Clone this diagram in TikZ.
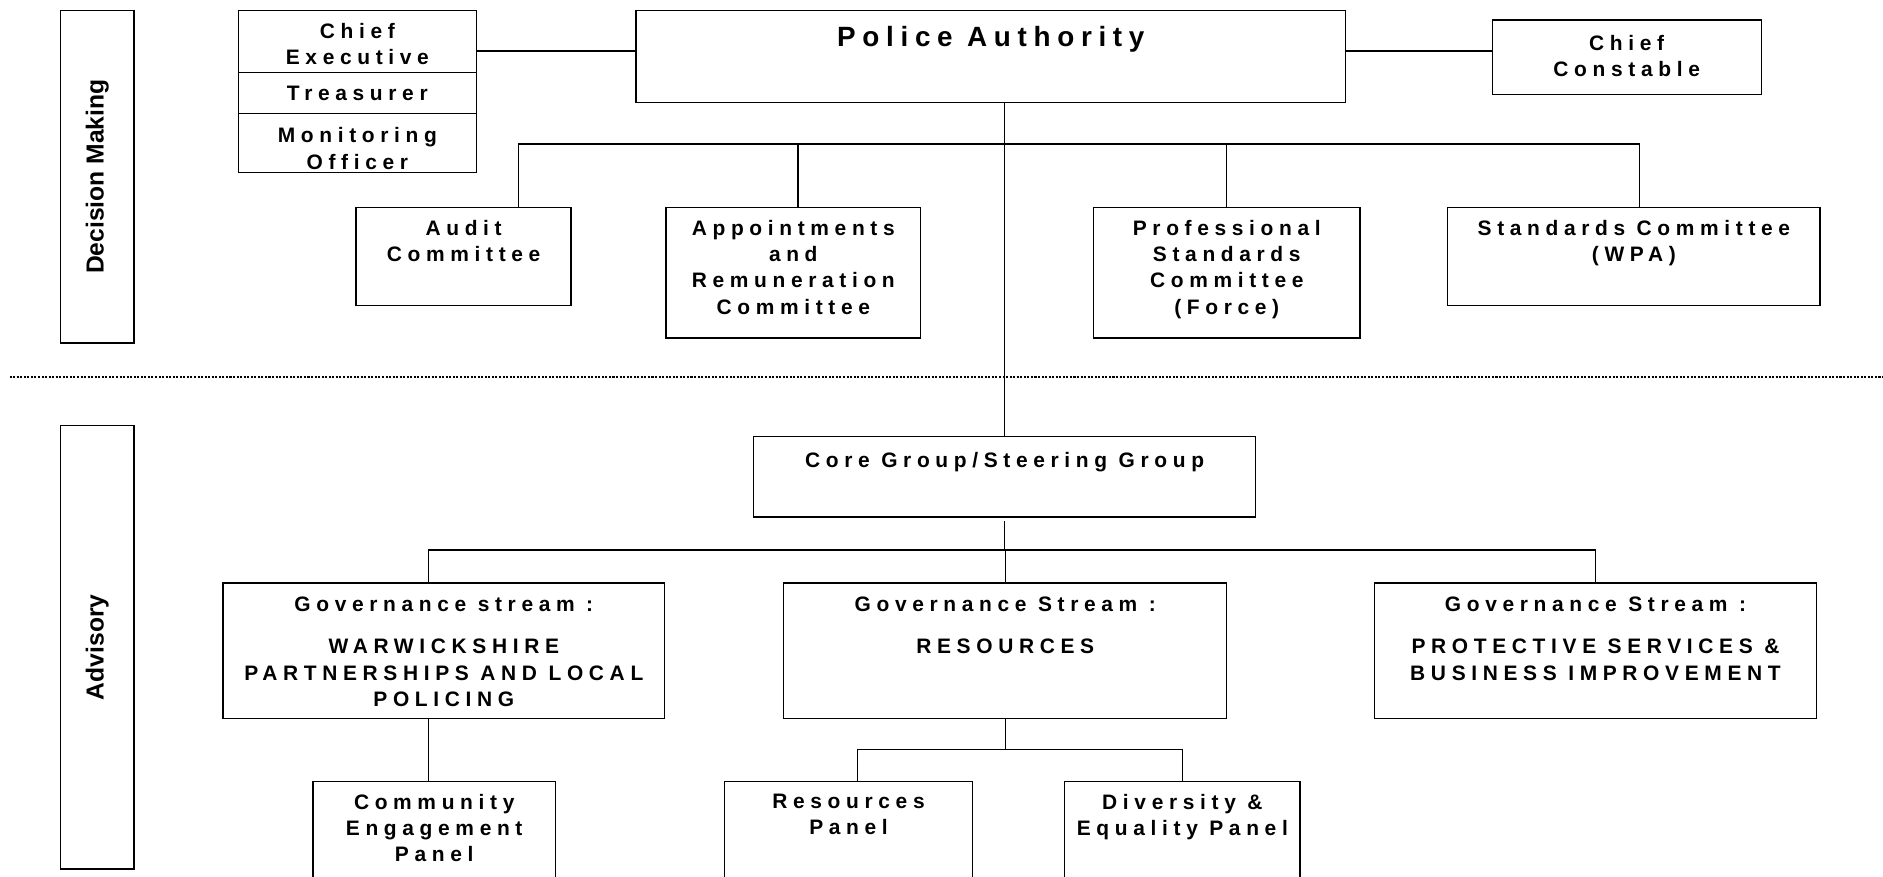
\documentclass[tikz,border=0pt]{standalone}
\usepackage{fontspec}
\setmainfont{Liberation Sans}
\newfontfamily\spaced[LetterSpace=27]{Liberation Sans}
\newfontfamily\spacedbig[LetterSpace=24]{Liberation Sans}
\newdimen\myunit
\myunit=0.025cm
\tikzset{
semithick,
box/.style={draw,line width=0.8pt,anchor=north west,inner sep=0pt},
sz/.style 2 args={minimum width=#1*\myunit,minimum height=#2*\myunit},
txt/.style={anchor=north,align=center,inner sep=0pt,yshift=-#1*\myunit,
  font=\spaced\bfseries\fontsize{12.4}{15.6}\selectfont},
txt/.default=11,
big/.style={font=\spacedbig\bfseries\fontsize{16.5}{20}\selectfont},
side/.style={anchor=center,rotate=90,inner sep=0pt,
  font=\bfseries\fontsize{14.6}{17}\selectfont},
link/.style={line width=0.8pt},
sep/.style={line width=1pt,dash pattern=on 1.2pt off 0.9pt}
}
\begin{document}
\begin{tikzpicture}[x=\myunit,y=-\myunit]
\useasboundingbox (0,0) rectangle (1568,730);
\clip (0,0) rectangle (1568,730);
% left bars
\node[box,sz={61}{277},label={[side]center:Decision Making}] (dm) at (50,8) {};
\node[box,sz={61}{369},label={[side]center:Advisory}] (adv) at (50,354) {};
% decision making
\node[box,sz={198}{52},label={[txt]north:{Chief\\Executive}}] (ce) at (198,8) {};
\node[box,sz={198}{34},label={[txt]north:{Treasurer}}] (tr) at (198,60) {};
\node[box,sz={198}{49},label={[txt=12]north:{Monitoring\\Officer}}] (mo) at (198,94) {};
\node[box,sz={591}{77},label={[txt=14,big]north:{Police Authority}}] (pa) at (529,8) {};
\node[box,sz={224}{62},label={[txt=13]north:{Chief\\Constable}}] (cc) at (1242,16) {};
\node[box,sz={179}{82},label={[txt]north:{Audit\\Committee}}] (audit) at (296,172) {};
\node[box,sz={212}{109},label={[txt]north:{Appointments\\and\\Remuneration\\Committee}}] (appt) at (554,172) {};
\node[box,sz={222}{109},label={[txt]north:{Professional\\Standards\\Committee\\(Force)}}] (prof) at (910,172) {};
\node[box,sz={310}{82},label={[txt]north:{Standards Committee\\(WPA)}}] (stds) at (1205,172) {};
% advisory
\node[box,sz={418}{67},label={[txt=13]north:{Core Group/Steering Group}}] (core) at (627,363) {};
\node[box,sz={368}{113},label={[txt=12]north:{Governance stream :\\[13\myunit]WARWICKSHIRE\\PARTNERSHIPS AND LOCAL\\POLICING}}] (gl) at (185,485) {};
\node[box,sz={369}{113},label={[txt=12]north:{Governance Stream :\\[13\myunit]RESOURCES}}] (gr) at (652,485) {};
\node[box,sz={368}{113},label={[txt=12]north:{Governance Stream :\\[13\myunit]PROTECTIVE SERVICES \&\\BUSINESS IMPROVEMENT}}] (gp) at (1144,485) {};
\node[box,sz={202}{100},label={[txt]north:{Community\\Engagement\\Panel}}] (comm) at (260,650) {};
\node[box,sz={206}{100},label={[txt]north:{Resources\\Panel}}] (res) at (603,650) {};
\node[box,sz={196}{100},label={[txt]north:{Diversity \&\\Equality Panel}}] (div) at (886,650) {};
% separator
\draw[sep] (8,314) -- (1568,314);
% links top
\draw[link] (ce.east) ++(0,8) coordinate (l1) -- (l1 -| pa.west);
\draw[link] (pa.east |- l1) -- (cc.west |- l1);
\draw[link] (pa.south -| core.north) -- (core.north);
\coordinate (t1) at (432,120);
\coordinate (t4) at (1365,120);
\draw[link] (t1 |- audit.north) -- (t1) -- (t4) -- (t4 |- stds.north);
\draw[link] (appt.north) ++(4,0) coordinate (t2) -- (t2 |- t1);
\draw[link] (prof.north) -- (prof.north |- t1);
% links bottom
\coordinate (b1) at (357,458);
\coordinate (b2) at (714,624);
\draw[link] (core.south) ++(0,3) -- (core.south |- b1);
\draw[link] (b1 |- gl.north) -- (b1) -- (b1 -| gp.north) -- (gp.north);
\draw[link] (gr.north) -- (gr.north |- b1);
\draw[link] (gl.south -| b1) -- (comm.north -| b1);
\draw[link] (gr.south) -- (gr.south |- b2);
\draw[link] (b2 |- res.north) -- (b2) -- (b2 -| div.north) -- (div.north);
\end{tikzpicture}
\end{document}
